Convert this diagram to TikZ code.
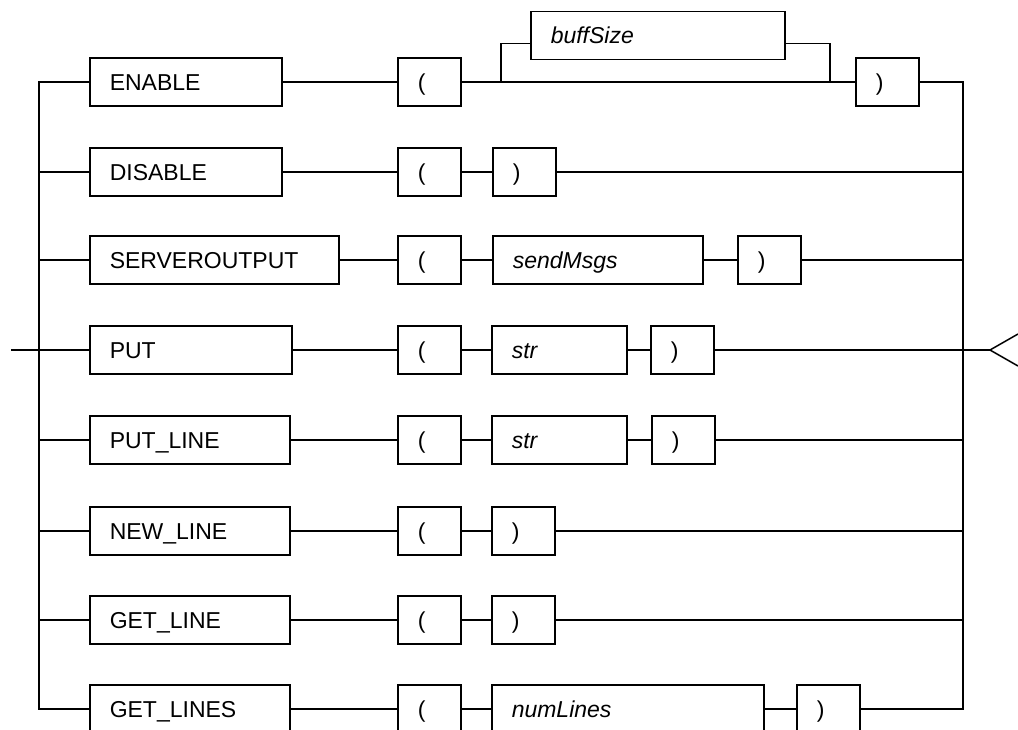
\documentclass[tikz,border=0pt]{standalone}
\usepackage{fontspec}
\setmainfont{Liberation Sans}

\begin{document}
\begin{tikzpicture}[x=1pt, y=-1pt, line width=1.5pt,
  term/.style={draw, anchor=west, inner xsep=20pt, inner ysep=0pt, minimum height=48pt,
    text height=16pt, text depth=0pt, text width=#1, align=left, font=\fontsize{23}{27}\selectfont},
  param/.style={term=#1, font=\fontsize{23}{27}\selectfont\itshape},
  paren/.style={term=23pt}]
\useasboundingbox (0,0) rectangle (1018,729);
\clip (0,0) rectangle (1018,729);
\foreach \i/\y in {1/82,2/172,3/260,4/350,5/440,6/531,7/620,8/709}
  {\coordinate (L\i) at (39,\y); \coordinate (R\i) at (963,\y);}

\node[term=152pt] (kw1) at (89,82) {ENABLE};
\node[paren] (lp1) at (397,82) {(};
\node[param=214pt] (arg1) at (530,35.5) {buffSize};
\node[paren] (rp1) at (855,82) {)};
\coordinate (s1) at (501,82);
\coordinate (j1) at (830,82);

\node[term=152pt] (kw2) at (89,172) {DISABLE};
\node[paren] (lp2) at (397,172) {(};
\node[paren] (rp2) at (492,172) {)};

\node[term=209pt] (kw3) at (89,260) {SERVEROUTPUT};
\node[paren] (lp3) at (397,260) {(};
\node[param=170pt] (arg3) at (492,260) {sendMsgs};
\node[paren] (rp3) at (737,260) {)};

\node[term=162pt] (kw4) at (89,350) {PUT};
\node[paren] (lp4) at (397,350) {(};
\node[param=95pt] (arg4) at (491,350) {str};
\node[paren] (rp4) at (650,350) {)};

\node[term=160pt] (kw5) at (89,440) {PUT\_LINE};
\node[paren] (lp5) at (397,440) {(};
\node[param=95pt] (arg5) at (491,440) {str};
\node[paren] (rp5) at (651,440) {)};

\node[term=160pt] (kw6) at (89,531) {NEW\_LINE};
\node[paren] (lp6) at (397,531) {(};
\node[paren] (rp6) at (491,531) {)};

\node[term=160pt] (kw7) at (89,620) {GET\_LINE};
\node[paren] (lp7) at (397,620) {(};
\node[paren] (rp7) at (491,620) {)};

\node[term=160pt] (kw8) at (89,709) {GET\_LINES};
\node[paren] (lp8) at (397,709) {(};
\node[param=232pt] (arg8) at (491,709) {numLines};
\node[paren] (rp8) at (796,709) {)};

\draw (kw1) -- (L1) -- (L8) -- (kw8);
\draw (rp1) -- (R1) -- (R8) -- (rp8);
\draw (kw1) -- (lp1) -- (s1) -- (j1) -- (rp1);
\draw (s1) |- (arg1.base west);
\draw (arg1.base east) -| (j1);
\draw (L2) -- (kw2) -- (lp2) -- (rp2) -- (R2);
\draw (L3) -- (kw3) -- (lp3) -- (arg3) -- (rp3) -- (R3);
\draw (L4) -- (kw4) -- (lp4) -- (arg4) -- (rp4) -- (R4);
\draw (L5) -- (kw5) -- (lp5) -- (arg5) -- (rp5) -- (R5);
\draw (L6) -- (kw6) -- (lp6) -- (rp6) -- (R6);
\draw (L7) -- (kw7) -- (lp7) -- (rp7) -- (R7);
\draw (kw8) -- (lp8) -- (arg8) -- (rp8);

\coordinate (in) at (11,350);
\coordinate (out) at (990,350);
\draw (in) -- (L4);
\draw (R4) -- (out);
\draw (out) ++(28,-16) -- (out) -- ++(28,16);
\end{tikzpicture}
\end{document}
